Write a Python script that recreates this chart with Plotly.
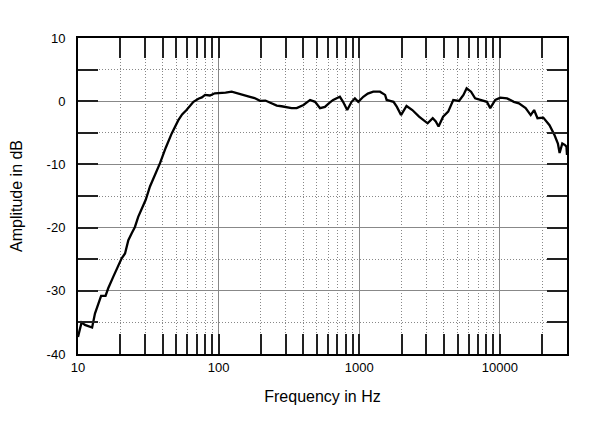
import plotly.graph_objects as go

# frequency response
freq_hz = [10, 10.6, 11.2, 12.6, 13.2, 13.95, 14.6, 15.7, 16.4, 17.8, 18.8, 20.4,
           21.6, 22.8, 24.1, 25.4, 26.8, 28.4, 30.3, 32.5, 35.2, 38.3, 42, 46.4,
           51.7, 55, 59.1, 62.5, 66.2, 71.8, 76, 80.1, 86.6, 94, 102.4, 112, 123.8,
           132, 141.9, 155, 167, 180, 197, 215, 232, 259, 280, 305, 330, 359, 401,
           447, 485, 526, 570, 610, 652, 728, 767, 821, 882, 931, 984, 1068, 1150,
           1258, 1404, 1526, 1566, 1657, 1752, 1852, 1981, 2168, 2384, 2662, 2850,
           3062, 3330, 3500, 3662, 3945, 4288, 4660, 5120, 5506, 5800, 6234, 6666,
           7433, 8077, 8537, 9269, 10070, 11247, 12564, 13646, 15239, 16554, 17505,
           18507, 20350, 22525, 24440, 25840, 26585, 27775, 28920, 29730, 30000]
level_db = [-37.3, -35.0, -35.4, -35.8, -33.6, -32.0, -30.8, -30.8, -29.6, -27.8,
            -26.7, -24.9, -24.1, -22.0, -20.9, -19.9, -18.3, -17.1, -15.6, -13.5,
            -11.7, -9.8, -7.4, -5.1, -3.0, -2.1, -1.4, -0.7, -0.1, 0.4, 0.6, 1.0,
            0.9, 1.25, 1.25, 1.35, 1.5, 1.35, 1.1, 0.9, 0.7, 0.5, 0.05, 0.1, -0.2,
            -0.7, -0.8, -1.0, -1.1, -1.1, -0.6, 0.2, -0.1, -1.1, -0.9, -0.3, 0.2,
            0.7, -0.1, -1.4, -0.1, 0.45, -0.1, 0.7, 1.2, 1.5, 1.5, 1.0, 0.2, 0.05,
            -0.1, -0.9, -2.2, -0.75, -1.4, -2.45, -2.9, -3.5, -2.7, -3.2, -4.0,
            -2.45, -1.65, 0.2, 0.05, 1.0, 2.05, 1.5, 0.45, 0.2, -0.1, -1.1, 0.2,
            0.55, 0.45, -0.1, -0.35, -1.1, -2.2, -1.4, -2.7, -2.6, -3.8, -5.35,
            -6.7, -8.2, -6.7, -6.9, -7.2, -8.5]

x_labels = ["10", "100", "1000", "10000"]
y_labels = ["-40", "-30", "-20", "-10", "0", "10"]

minor_x = [m * 10 ** d for d in range(1, 5) for m in range(2, 10) if m * 10 ** d < 30000]

fig = go.Figure()
fig.add_trace(go.Scatter(x=freq_hz, y=level_db, mode="lines",
                         line=dict(color="black", width=2.3), showlegend=False))

# page body adds 8px, so margins are shifted to keep the plot box in place
fig.update_layout(
    width=600, height=422,
    margin=dict(l=70, r=41, t=30, b=76),
    plot_bgcolor="white", paper_bgcolor="white",
    font=dict(family="Liberation Sans, Arial, sans-serif", size=13, color="black"),
)

dotted = "1px,2px"

fig.update_xaxes(
    type="log", range=[1, 4.4771],
    tickvals=[10, 100, 1000, 10000], ticktext=x_labels,
    ticks="inside", ticklen=20, tickwidth=1.5, tickcolor="#222",
    showgrid=True, gridcolor="#888", gridwidth=1,
    showline=True, linecolor="black", linewidth=2, mirror="ticks",
    minor=dict(tickvals=minor_x, ticks="inside", ticklen=20, tickwidth=1.5,
               tickcolor="#222", showgrid=True, gridcolor="#888", griddash=dotted, gridwidth=1),
    title=dict(text="Frequency in Hz", standoff=17),
    zeroline=False, automargin=False,
)
fig.update_yaxes(
    range=[-40, 10],
    tickvals=[-40, -30, -20, -10, 0, 10], ticktext=y_labels,
    ticks="inside", ticklen=20, tickwidth=1.5, tickcolor="#222",
    ticklabelstandoff=8,
    showgrid=True, gridcolor="#888", gridwidth=1,
    showline=True, linecolor="black", linewidth=2, mirror="ticks",
    minor=dict(dtick=5, ticks="inside", ticklen=20, tickwidth=1.5,
               tickcolor="#222", showgrid=True, gridcolor="#888", griddash=dotted, gridwidth=1),
    title=dict(text="Amplitude in dB", standoff=20),
    zeroline=False, automargin=False,
)

fig.write_html("out.html")
